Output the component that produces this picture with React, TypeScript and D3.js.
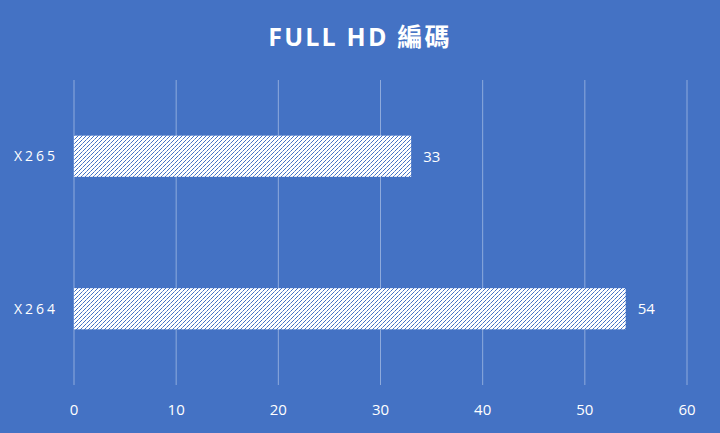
import React from "react";
import * as d3 from "d3";

const categories = ["X265", "X264"];
const values = [33, 54];
const xTicks = [0, 10, 20, 30, 40, 50, 60];
const title = "FULL HD 編碼";

const width = 720;
const height = 433;
const margin = { top: 80, right: 33, bottom: 48, left: 74 };

export default function App() {
  const innerW = width - margin.left - margin.right;
  const innerH = height - margin.top - margin.bottom;

  const x = d3.scaleLinear().domain([0, 60]).range([0, innerW]);
  const y = d3
    .scaleBand<string>()
    .domain(categories)
    .range([0, innerH])
    .paddingInner(0.73)
    .paddingOuter(0.365);

  const font = "'Segoe UI', 'Open Sans', 'Noto Sans CJK TC', sans-serif";

  return (
    <svg
      width={width}
      height={height}
      style={{ position: "absolute", left: 0, top: 0, display: "block" }}
    >
      <defs>
        {/* 1px diagonal dotted hatch, like Office's "dark upward diagonal" */}
        <pattern
          id="hatch"
          width={4}
          height={4}
          patternUnits="userSpaceOnUse"
        >
          <rect width={4} height={4} fill="#ffffff" />
          <g fill="#4472c4" shapeRendering="crispEdges">
            <rect x={3} y={0} width={1} height={1} />
            <rect x={2} y={1} width={1} height={1} />
            <rect x={1} y={2} width={1} height={1} />
            <rect x={0} y={3} width={1} height={1} fill="#7d9bd6" />
          </g>
        </pattern>
      </defs>
      <rect width={width} height={height} fill="#4472c4" />
      <text
        x={width / 2}
        y={46}
        textAnchor="middle"
        fill="#ffffff"
        fontFamily={font}
        fontSize={25}
        fontWeight="bold"
        letterSpacing={2.2}
      >
        {title}
      </text>
      <g transform={`translate(${margin.left},${margin.top})`}>
        {xTicks.map((t) => (
          <line
            key={t}
            x1={x(t)}
            x2={x(t)}
            y1={0}
            y2={innerH}
            stroke="#8eaadc"
            strokeWidth={1}
          />
        ))}
        {categories.map((c, i) => (
          <g key={c}>
            <rect
              x={x(0)}
              y={y(c)}
              width={x(values[i]) - x(0)}
              height={y.bandwidth()}
              fill="url(#hatch)"
            />
            <text
              x={x(values[i]) + 12}
              y={(y(c) ?? 0) + y.bandwidth() / 2}
              dy="0.35em"
              fill="#ffffff"
              fontFamily={font}
              fontSize={15}
            >
              {values[i]}
            </text>
            <text
              x={-16}
              y={(y(c) ?? 0) + y.bandwidth() / 2}
              dy="0.35em"
              textAnchor="end"
              fill="#ffffff"
              fontFamily={font}
              fontSize={14}
              letterSpacing={3}
            >
              {c}
            </text>
          </g>
        ))}
        {xTicks.map((t) => (
          <text
            key={t}
            x={x(t)}
            y={innerH + 25}
            dy="0.35em"
            textAnchor="middle"
            fill="#ffffff"
            fontFamily={font}
            fontSize={15}
          >
            {t}
          </text>
        ))}
      </g>
    </svg>
  );
}
